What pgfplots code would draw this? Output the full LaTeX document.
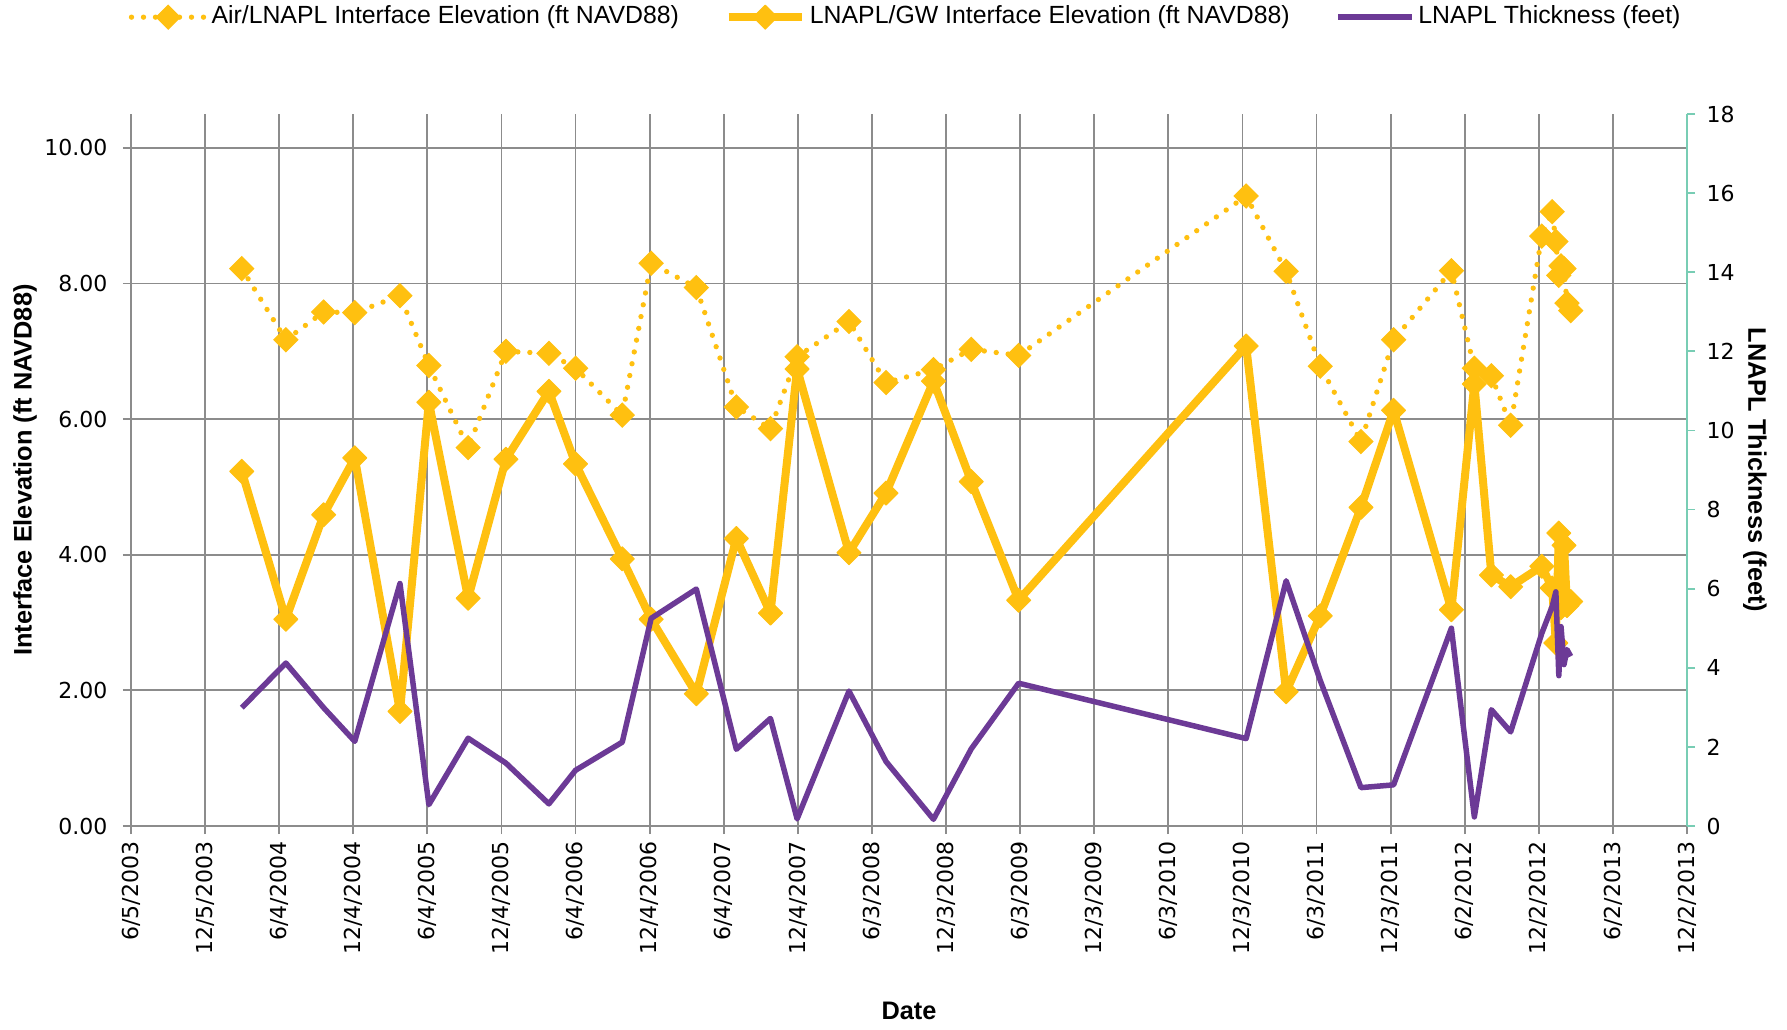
\documentclass[border=0pt]{standalone}
\usepackage{fontspec}
\setmainfont{Liberation Sans}
\newfontfamily\tickfont{DejaVu Sans}
\usepackage{pgfplots}
\usepackage{pgfplotstable}
\pgfplotsset{compat=1.18}
\definecolor{gold}{RGB}{255,192,16}
\definecolor{lpurple}{RGB}{108,58,150}
\definecolor{gridgray}{RGB}{140,140,140}
\definecolor{tealax}{RGB}{120,205,180}

\pgfplotstableread{
x air gw thick
1.495 8.22 5.23 2.99
2.09 7.17 3.05 4.12
2.60 7.58 4.59 2.99
3.02 7.57 5.43 2.14
3.63 7.82 1.69 6.13
4.02 6.79 6.25 0.54
4.55 5.58 3.36 2.22
5.06 7.00 5.41 1.59
5.64 6.97 6.41 0.56
6.00 6.75 5.34 1.41
6.63 6.06 3.94 2.12
7.02 8.30 3.05 5.25
7.63 7.94 1.95 5.99
8.17 6.18 4.24 1.94
8.63 5.86 3.14 2.72
8.99 6.92 6.74 0.18
9.69 7.44 4.03 3.41
10.19 6.54 4.91 1.63
10.83 6.73 6.56 0.17
11.34 7.03 5.08 1.95
11.98 6.94 3.33 3.61
15.05 9.29 7.08 2.21
15.59 8.18 1.98 6.20
16.05 6.78 3.10 3.68
16.60 5.67 4.70 0.97
17.04 7.17 6.13 1.04
17.82 8.19 3.19 5.00
18.13 6.75 6.52 0.23
18.36 6.64 3.70 2.94
18.62 5.91 3.53 2.38
19.04 8.70 3.83 4.87
19.18 9.06 3.51 5.55
19.23 8.62 2.70 5.92
19.27 8.12 4.32 3.80
19.30 8.26 3.22 5.04
19.34 8.22 4.14 4.08
19.38 7.71 3.25 4.46
19.43 7.60 3.31 4.29
}\datatable

\begin{document}
\begin{tikzpicture}
\path[use as bounding box] (-39.3pt,-60.9pt) rectangle (496.8pt,247.8pt);
\begin{axis}[
  at={(0,0)}, anchor=south west, scale only axis,
  width=466.8pt, height=213.6pt,
  xmin=0, xmax=21, ymin=0, ymax=10.5,
  axis x line*=bottom, axis y line*=left,
  axis line style={gridgray, line width=0.6pt, -},
  xtick={0,...,21},
  xticklabels={6/5/2003,12/5/2003,6/4/2004,12/4/2004,6/4/2005,12/4/2005,6/4/2006,12/4/2006,6/4/2007,12/4/2007,6/3/2008,12/3/2008,6/3/2009,12/3/2009,6/3/2010,12/3/2010,6/3/2011,12/3/2011,6/2/2012,12/2/2012,6/2/2013,12/2/2013},
  ytick={0,2,4,6,8,10},
  grid=major, major grid style={gridgray, line width=0.55pt},
  tick align=outside, major tick length=2.4pt,
  tick style={gridgray, line width=0.55pt},
  ticklabel style={font=\tickfont\fontsize{6.6}{7}\selectfont},
  /pgf/number format/assume math mode=true,
  yticklabel style={/pgf/number format/fixed, /pgf/number format/fixed zerofill, /pgf/number format/precision=2, anchor=east, inner sep=0pt, xshift=-4.5pt},
  xticklabel style={rotate=90, anchor=east, inner sep=0pt},
  xticklabel shift=2.1pt,
  xlabel={Date},
  xlabel style={at={(axis description cs:0.5,-0.26)}, anchor=center, font=\bfseries\fontsize{7.6}{9}\selectfont},
  ylabel={Interface Elevation (ft NAVD88)},
  ylabel style={at={(axis description cs:-0.0681,0.5)}, anchor=center, font=\bfseries\fontsize{7.6}{9}\selectfont},
  legend style={at={(0.4985,1.136)}, anchor=center, draw=none, fill=none, inner sep=0pt,
    font=\fontsize{7.45}{8}\selectfont,
    nodes={inner xsep=1.2pt},
    /tikz/every even column/.append style={column sep=12.5pt}},
  legend columns=3,
  legend cell align=left,
  legend image code/.code={\draw[mark repeat=2, mark phase=2, #1] plot coordinates {(0pt,0pt) (11pt,0pt) (22pt,0pt)};},
]
\addplot[gold, line width=1.6pt, line cap=round, dash pattern=on 0pt off 3.6pt,
  mark=square*, mark size=2.55pt, mark options={solid, rotate=45, fill=gold, line width=0.3pt}]
  table[x=x, y=air] {\datatable};
\addlegendentry{Air/LNAPL Interface Elevation (ft NAVD88)}
\addplot[gold, line width=2.4pt, line join=round,
  mark=square*, mark size=2.55pt, mark options={solid, rotate=45, fill=gold, line width=0.3pt}]
  table[x=x, y=gw] {\datatable};
\addlegendentry{LNAPL/GW Interface Elevation (ft NAVD88)}
\addlegendimage{lpurple, line width=1.65pt}
\addlegendentry{LNAPL Thickness (feet)}
\end{axis}
\begin{axis}[
  at={(0,0)}, anchor=south west, scale only axis,
  width=466.8pt, height=213.6pt,
  xmin=0, xmax=21, ymin=0, ymax=18,
  axis y line*=right, axis x line=none,
  axis line style={tealax, line width=0.6pt, -},
  ytick={0,2,...,18},
  tick align=outside, major tick length=2.4pt,
  ytick style={tealax, line width=0.55pt},
  ticklabel style={font=\tickfont\fontsize{6.6}{7}\selectfont},
  /pgf/number format/assume math mode=true,
  yticklabel style={anchor=west, inner sep=0pt, xshift=3.3pt},
  ylabel={LNAPL Thickness (feet)},
  ylabel style={at={(axis description cs:1.0437,0.5)}, anchor=center, rotate=180, font=\bfseries\fontsize{7.6}{9}\selectfont},
]
\addplot[lpurple, line width=1.65pt, line join=round] table[x=x, y=thick] {\datatable};
\end{axis}
\end{tikzpicture}
\end{document}
